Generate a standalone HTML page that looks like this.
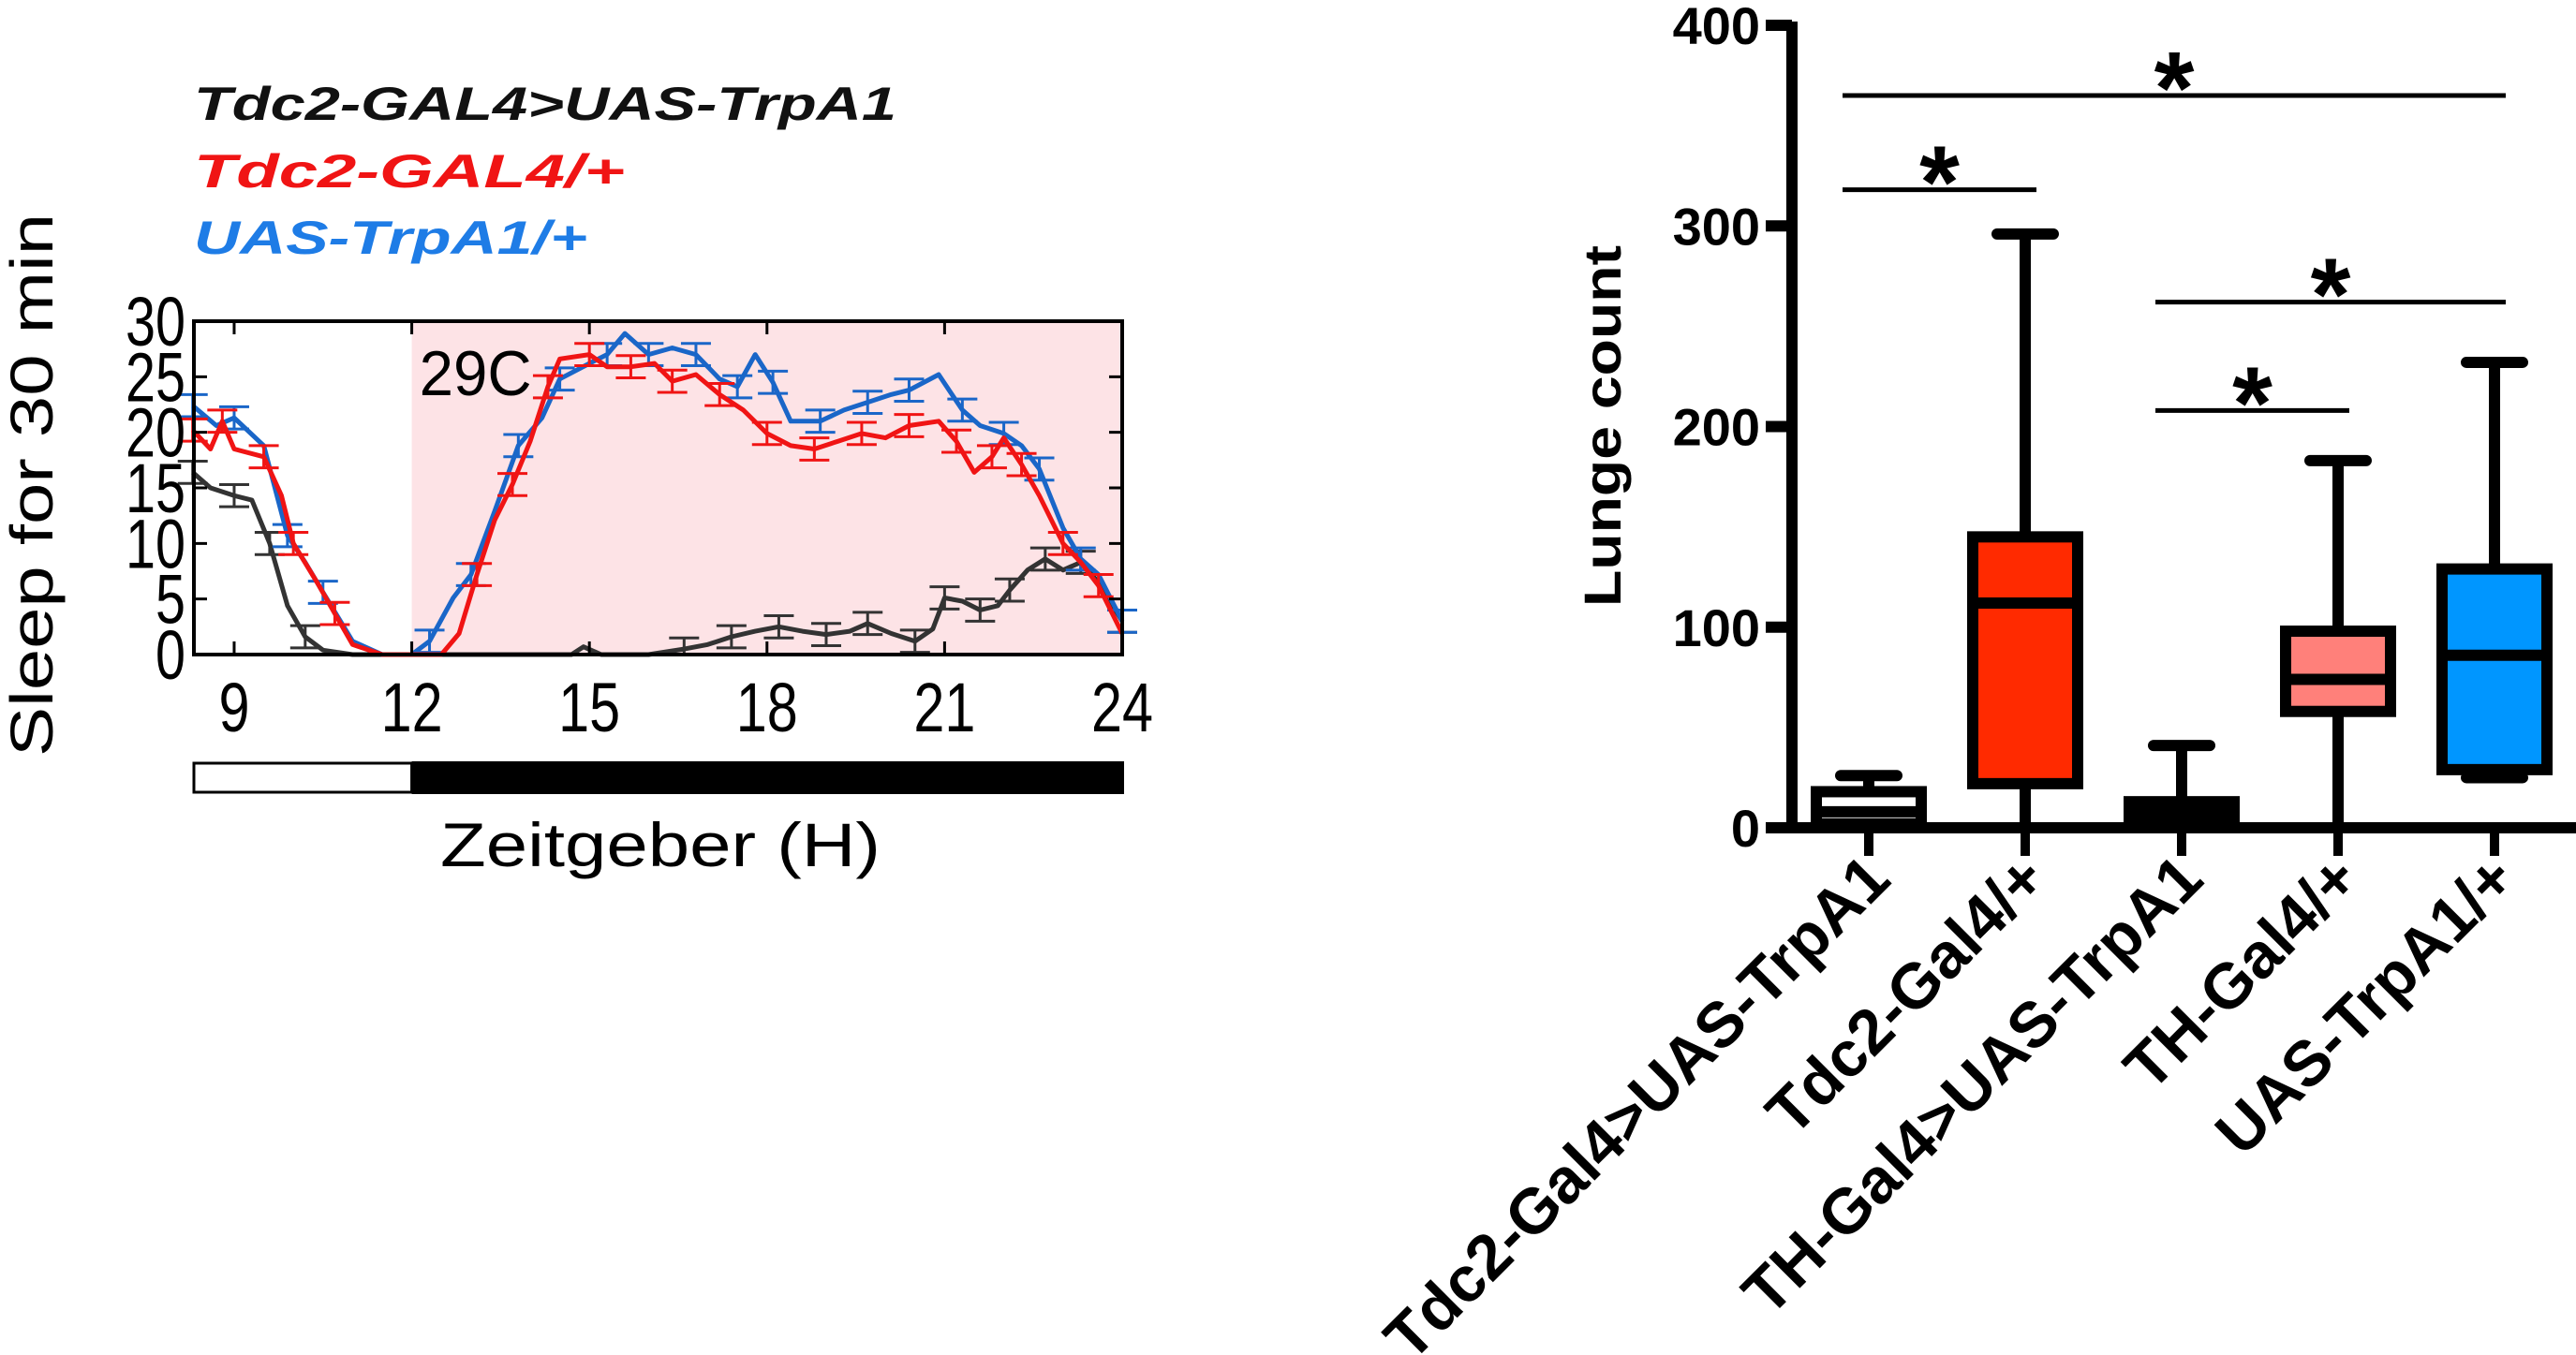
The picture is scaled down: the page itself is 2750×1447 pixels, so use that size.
<!DOCTYPE html>
<html><head><meta charset="utf-8"><style>
html,body{margin:0;padding:0;background:#fff;}
svg{display:block;font-family:"Liberation Sans",sans-serif;}
</style></head><body>
<svg id="fig" width="2750" height="1447" viewBox="0 0 2750 1447" xmlns="http://www.w3.org/2000/svg">
<g id="left"></g>
<g id="right"></g>
</svg>
<script>
// ---------- Sleep chart data ----------
const xTicks = [9, 12, 15, 18, 21, 24];
const yTicks = [0, 5, 10, 15, 20, 25, 30];
const blackT = [8.3,8.6,9.0,9.3,9.6,9.9,10.2,10.5,11.0,12.0,13.0,14.0,14.7,14.9,15.2,16.0,16.6,17.0,17.4,17.8,18.2,18.6,19.0,19.4,19.7,20.1,20.5,20.8,21.0,21.3,21.6,21.9,22.1,22.4,22.7,23.0,23.3,23.6,24.0];
const blackV = [16.4,15.0,14.3,13.9,10.0,4.4,1.6,0.4,0,0,0,0,0,0.7,0,0,0.5,0.9,1.6,2.1,2.5,2.1,1.8,2.1,2.8,1.9,1.2,2.3,5.1,4.8,4.0,4.4,5.8,7.6,8.6,7.6,8.3,6.5,3.0];
const redT = [8.3,8.6,8.8,9.0,9.5,9.8,10.0,10.4,10.7,11.0,11.5,12.0,12.5,12.8,13.1,13.4,13.7,14.0,14.3,14.5,15.0,15.3,15.7,16.1,16.4,16.8,17.2,17.6,18.0,18.4,18.8,19.2,19.6,20.0,20.4,20.9,21.2,21.5,21.8,22.0,22.3,22.6,23.0,23.3,23.6,24.0];
const redV = [20.2,18.5,21.0,18.5,17.8,14.3,10.0,6.5,3.7,0.9,0,0,0,1.9,7.2,12.1,15.3,19.2,24.1,26.6,27.0,25.9,25.9,26.2,24.6,25.2,23.4,22.0,19.9,18.8,18.5,19.2,19.9,19.5,20.6,21.0,19.2,16.4,17.8,19.5,17.1,14.3,10.0,8.3,6.2,1.9];
const blueT = [8.3,8.7,9.0,9.5,9.9,10.2,10.5,11.0,11.5,12.0,12.3,12.7,13.0,13.4,13.8,14.2,14.5,15.0,15.3,15.6,16.0,16.4,16.8,17.2,17.5,17.8,18.1,18.4,18.9,19.3,19.7,20.1,20.4,20.9,21.3,21.6,22.0,22.3,22.6,23.0,23.3,23.6,24.0];
const blueV = [22.4,20.6,21.3,18.8,10.7,8.3,5.6,1.2,0,0,1.2,5.1,7.2,12.9,18.8,21.3,24.8,26.2,27.0,28.9,27.0,27.6,27.0,24.8,24.1,27.0,24.5,21.0,21.0,22.0,22.7,23.4,23.8,25.2,22.0,20.6,19.9,18.8,16.7,11.4,8.6,7.2,3.0];
const legendLabels = ["Tdc2-GAL4>UAS-TrpA1","Tdc2-GAL4/+","UAS-TrpA1/+"];

// ---------- Box plot data ----------
const groups = ["Tdc2-Gal4>UAS-TrpA1","Tdc2-Gal4/+","TH-Gal4>UAS-TrpA1","TH-Gal4/+","UAS-TrpA1/+"];
const boxMin = [0, 0, 0, 0, 25];
const boxQ1 = [2, 22, 0, 58, 29];
const boxMed = [8, 112, 5, 74, 86];
const boxQ3 = [18, 145, 13, 98, 129];
const boxMax = [26, 296, 41, 183, 232];
const boxTicks = [0, 100, 200, 300, 400];
const sigFrom = [0, 0, 2, 2];
const sigTo = [4, 1, 4, 3];
const sigLevel = [365, 318, 262, 208];

const NS = "http://www.w3.org/2000/svg";
function mk(parent, tag, attrs, text){
  const e = document.createElementNS(NS, tag);
  for (const k in attrs) e.setAttribute(k, attrs[k]);
  if (text !== undefined) e.textContent = text;
  parent.appendChild(e);
  return e;
}

// ---- Left chart ----
const L = document.getElementById('left');
const PX0 = 207, PX1 = 1198, PY0 = 343, PY1 = 699;
const H0 = 8.32, H1 = 24;
const sx = h => PX0 + (h - H0) / (H1 - H0) * (PX1 - PX0);
const sy = v => PY1 - v / 30 * (PY1 - PY0);

let e;
e = mk(L, 'rect', {x: sx(12), y: PY0, width: PX1 - sx(12), height: PY1 - PY0, fill: '#fde3e6'});


e = mk(L, 'text', {x: sx(12) + 8, y: 422, 'font-size': 68, textLength: 120, lengthAdjust: 'spacingAndGlyphs'}, '29C');



const series = [
  {t: blackT, v: blackV, c: '#333333', n: 'tdc2-trpa1'},
  {t: blueT, v: blueV, c: '#1a66c8', n: 'uas-trpa1'},
  {t: redT, v: redV, c: '#f01414', n: 'tdc2-gal4'}
];
series.forEach(s => {
  const pts = s.t.map((h, i) => sx(h).toFixed(1) + ',' + sy(s.v[i]).toFixed(1)).join(' ');
  const ln = mk(L, 'polyline', {points: pts, fill: 'none', stroke: s.c, 'stroke-width': 5, 'stroke-linejoin': 'round'});
  
  
  s.t.forEach((h, i) => {
    if (s.v[i] <= 0.05 || i % 2) return;
    const x = sx(h), y0 = sy(s.v[i] + 1), y1 = sy(Math.max(0, s.v[i] - 1));
    const g = mk(L, 'path', {d: `M${x},${y0}V${y1}M${x-16},${y0}H${x+16}M${x-16},${y1}H${x+16}`, stroke: s.c, 'stroke-width': 3, fill: 'none'});
    
    
  });
});

e = mk(L, 'rect', {x: PX0, y: PY0, width: PX1 - PX0, height: PY1 - PY0, fill: 'none', stroke: '#000', 'stroke-width': 4});



yTicks.forEach(v => {
  const y = sy(v);
  mk(L, 'path', {d: `M${PX0},${y}h14M${PX1},${y}h-14`, stroke: '#000', 'stroke-width': 3});
  const t = mk(L, 'text', {x: 198, y: y + 26, 'font-size': 74, 'text-anchor': 'end', textLength: v >= 10 ? 64 : 32, lengthAdjust: 'spacingAndGlyphs'}, String(v));
  
  
});
xTicks.forEach(h => {
  const x = sx(h);
  mk(L, 'path', {d: `M${x},${PY0}v14M${x},${PY1}v-14`, stroke: '#000', 'stroke-width': 3});
  const t = mk(L, 'text', {x: x, y: 781, 'font-size': 74, 'text-anchor': 'middle', textLength: h >= 10 ? 66 : 33, lengthAdjust: 'spacingAndGlyphs'}, String(h));
  
  
});

e = mk(L, 'rect', {x: PX0, y: 815, width: sx(12) - PX0, height: 31, fill: '#fff', stroke: '#000', 'stroke-width': 3});


e = mk(L, 'rect', {x: sx(12), y: 813, width: PX1 - sx(12) + 2, height: 35, fill: '#000'});



e = mk(L, 'text', {x: 705, y: 925, 'font-size': 66, 'text-anchor': 'middle', textLength: 470, lengthAdjust: 'spacingAndGlyphs'}, 'Zeitgeber (H)');


e = mk(L, 'text', {x: 0, y: 0, 'font-size': 64, 'text-anchor': 'middle', textLength: 580, lengthAdjust: 'spacingAndGlyphs', transform: 'translate(56,518) rotate(-90)'}, 'Sleep for 30 min');



const legColors = ['#111111', '#f01414', '#1e7ce6'];
const legW = [750, 460, 420];
const legY = [128, 200, 271];
legendLabels.forEach((lab, i) => {
  const t = mk(L, 'text', {x: 207, y: legY[i], 'font-size': 50, 'font-weight': 'bold', 'font-style': 'italic', fill: legColors[i], textLength: legW[i], lengthAdjust: 'spacingAndGlyphs'}, lab);
  
  
});

// ---- Right chart ----
const R = document.getElementById('right');
const AX = 1913, Y0 = 884, Y400 = 27;
const by = v => Y0 - v / 400 * (Y0 - Y400);
const bx = i => 1995 + i * 167;
const fills = ['#ffffff', '#ff2a00', '#000000', '#ff807a', '#0096ff'];
const BW = 112;

groups.forEach((g, i) => {
  const x = bx(i);
  const w = mk(R, 'path', {d: `M${x},${by(boxMax[i])}V${by(boxQ3[i])}M${x},${by(boxQ1[i])}V${by(boxMin[i])}M${x-30},${by(boxMax[i])}H${x+30}M${x-30},${by(boxMin[i])}H${x+30}`, stroke: '#000', 'stroke-width': 12, 'stroke-linecap': 'round', fill: 'none'});
  
  
  const b = mk(R, 'rect', {x: x - BW / 2, y: by(boxQ3[i]), width: BW, height: Math.max(by(boxQ1[i]) - by(boxQ3[i]), 1), fill: fills[i], stroke: '#000', 'stroke-width': 12});
  
  
  const m = mk(R, 'path', {d: `M${x - BW / 2},${by(boxMed[i])}H${x + BW / 2}`, stroke: '#000', 'stroke-width': 12});
  
  
  mk(R, 'path', {d: `M${x},${Y0}v${30}`, stroke: '#000', 'stroke-width': 10});
  const t = mk(R, 'text', {x: 0, y: 0, 'font-size': 68, 'font-weight': 'bold', 'text-anchor': 'end', transform: `translate(${x + 26},${Y0 + 58}) rotate(-45)`}, g);
  
  
});

e = mk(R, 'path', {d: `M${AX},${Y400 - 4}V${Y0}H2750`, stroke: '#000', 'stroke-width': 12, fill: 'none'});


boxTicks.forEach(v => {
  const y = by(v);
  mk(R, 'path', {d: `M${AX - 28},${y}H${AX}`, stroke: '#000', 'stroke-width': 12});
  const t = mk(R, 'text', {x: AX - 34, y: y + 20, 'font-size': 56, 'font-weight': 'bold', 'text-anchor': 'end'}, String(v));
  
  
});
e = mk(R, 'text', {x: 0, y: 0, 'font-size': 56, 'font-weight': 'bold', 'text-anchor': 'middle', textLength: 386, lengthAdjust: 'spacingAndGlyphs', transform: 'translate(1730,455) rotate(-90)'}, 'Lunge count');



sigFrom.forEach((f, k) => {
  const x0 = bx(f) - 28, x1 = bx(sigTo[k]) + 12, y = by(sigLevel[k]);
  const l = mk(R, 'path', {d: `M${x0},${y}H${x1}`, stroke: '#000', 'stroke-width': 5});
  
  
  const s = mk(R, 'text', {x: (x0 + x1) / 2, y: y + 30, 'font-size': 110, 'font-weight': 'bold', 'text-anchor': 'middle'}, '*');
  
  
});
</script>
</body></html>
